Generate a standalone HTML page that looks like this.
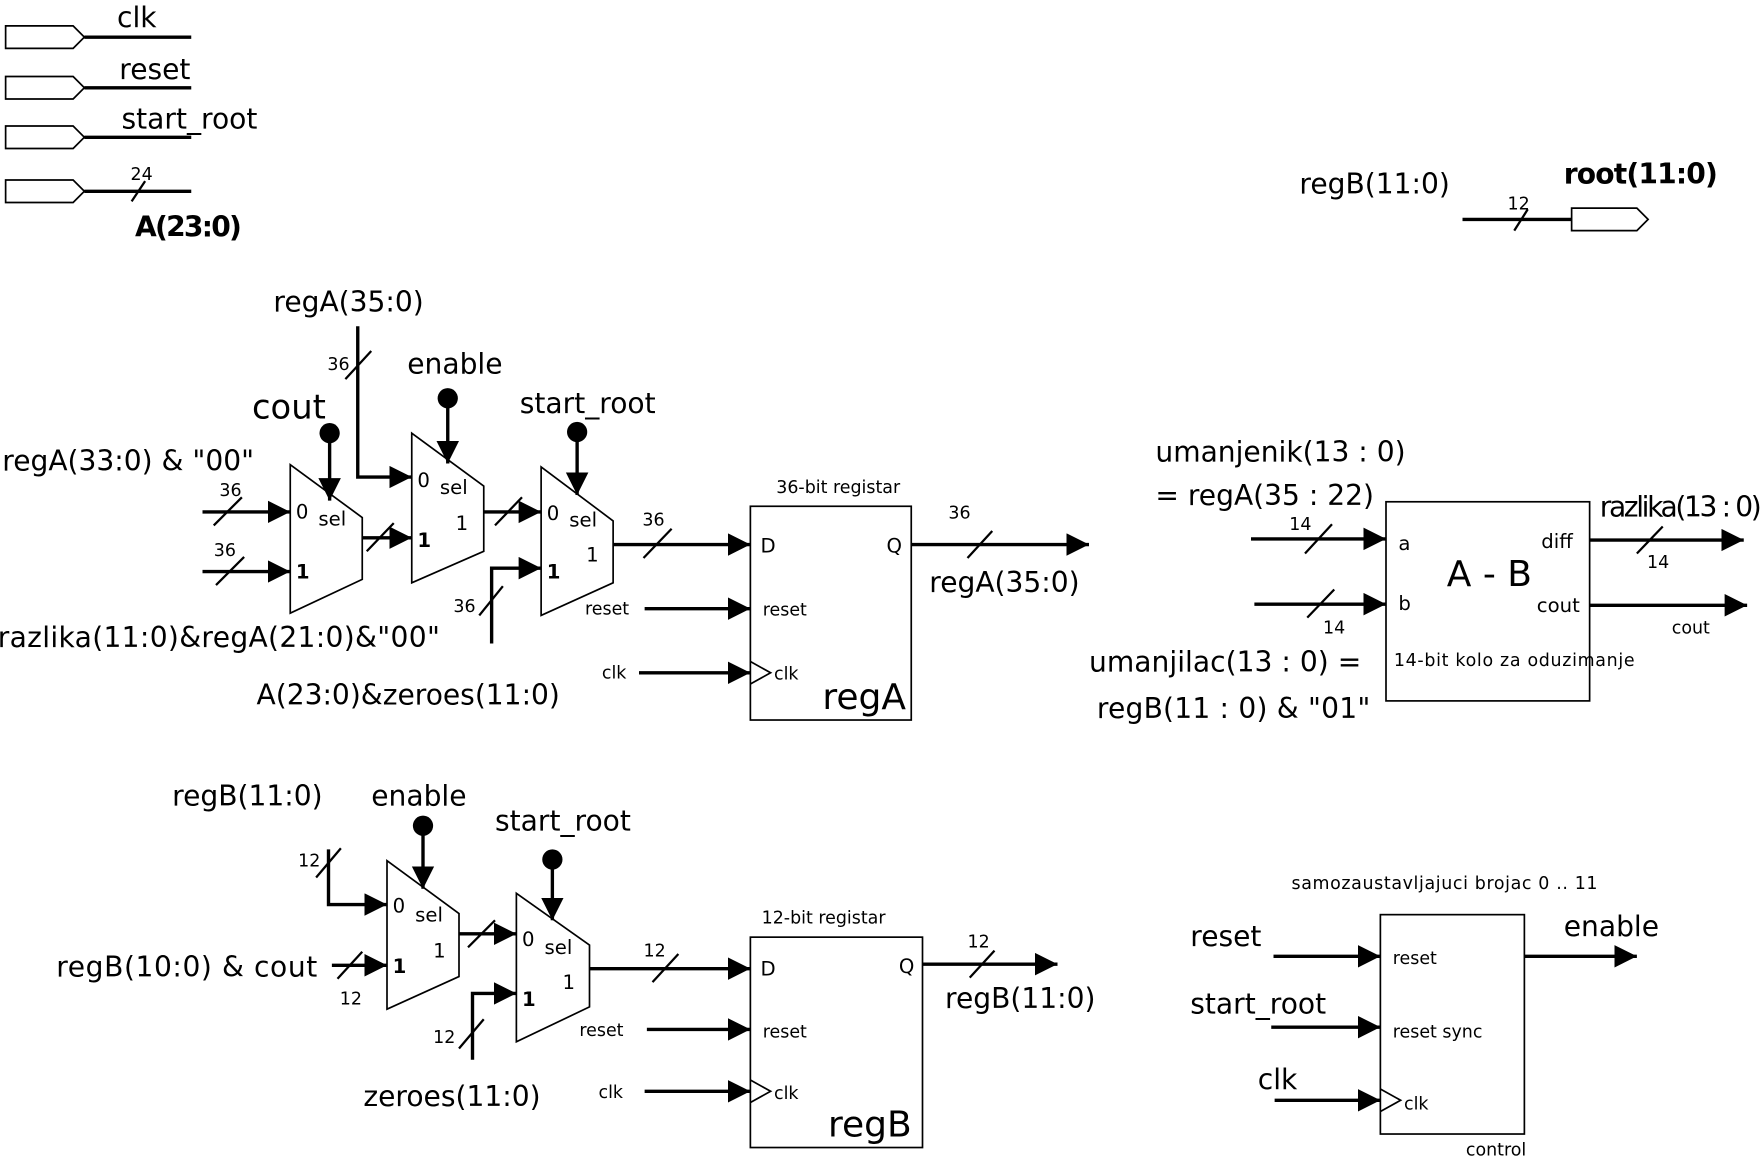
<!DOCTYPE html>
<html><head><meta charset="utf-8"><style>
html,body{margin:0;padding:0;background:#fff;}
svg{display:block;}
text{font-family:"DejaVu Sans","Liberation Sans",sans-serif;fill:#000;}
.L{font-size:25px;}
.S{font-size:15.5px;}
.M{font-size:17.5px;}
</style></head><body>
<svg width="1764" height="1157" viewBox="0 0 1568 1028.4" xmlns="http://www.w3.org/2000/svg">
<defs>
<marker id="a" markerUnits="userSpaceOnUse" markerWidth="22" markerHeight="22" refX="20" refY="10" orient="auto">
<path d="M0,0 L20,10 L0,20 Z" fill="#000"/></marker>
</defs>
<g stroke="#000" stroke-width="3" fill="none">
<path stroke-width="1.5" d="M5,23 H65 L75,33 L65,43 H5 Z"/><line x1="75" y1="33" x2="170" y2="33"/>
<path stroke-width="1.5" d="M5,68 H65 L75,78 L65,88 H5 Z"/><line x1="75" y1="78" x2="170" y2="78"/>
<path stroke-width="1.5" d="M5,112 H65 L75,122 L65,132 H5 Z"/><line x1="75" y1="122" x2="170" y2="122"/>
<path stroke-width="1.5" d="M5,160 H65 L75,170 L65,180 H5 Z"/><line x1="75" y1="170" x2="170" y2="170"/>
<line stroke-width="2" x1="117" y1="179" x2="129" y2="161"/>
<line x1="1300" y1="195" x2="1397" y2="195"/><line stroke-width="2" x1="1346" y1="205" x2="1358" y2="186"/>
<path stroke-width="1.5" d="M1397,185 H1455 L1465,195 L1455,205 H1397 Z"/>

<path stroke-width="1.5" d="M258,413 L322,460 L322,515 L258,545 Z"/>
<path stroke-width="1.5" d="M366,385 L430,432 L430,490 L366,518 Z"/>
<path stroke-width="1.5" d="M481,415 L545,463 L545,518 L481,547 Z"/>
<line x1="180" y1="455" x2="258" y2="455" marker-end="url(#a)"/><line stroke-width="2" x1="190" y1="467" x2="215" y2="442"/>
<line x1="180" y1="508" x2="258" y2="508" marker-end="url(#a)"/><line stroke-width="2" x1="192" y1="520" x2="217" y2="495"/>
<line x1="293" y1="385" x2="293" y2="445" marker-end="url(#a)"/><circle cx="293" cy="385" r="9" fill="#000" stroke="none"/>
<polyline points="318,290 318,424 366,424" marker-end="url(#a)"/><line stroke-width="2" x1="307" y1="337" x2="330" y2="312"/>
<line x1="398" y1="354" x2="398" y2="412" marker-end="url(#a)"/><circle cx="398" cy="354" r="9" fill="#000" stroke="none"/>
<line x1="322" y1="478" x2="366" y2="478" marker-end="url(#a)"/><line stroke-width="2" x1="326" y1="490" x2="350" y2="465"/>
<line x1="430" y1="455" x2="481" y2="455" marker-end="url(#a)"/><line stroke-width="2" x1="440" y1="467" x2="464" y2="442"/>
<line x1="513" y1="384" x2="513" y2="440" marker-end="url(#a)"/><circle cx="513" cy="384" r="9" fill="#000" stroke="none"/>
<polyline points="437,572 437,505 481,505" marker-end="url(#a)"/><line stroke-width="2" x1="426" y1="547" x2="447" y2="521"/>
<line x1="545" y1="484" x2="667" y2="484" marker-end="url(#a)"/><line stroke-width="2" x1="572" y1="496" x2="597" y2="470"/>
<rect stroke-width="1.5" x="667" y="450" width="143" height="190"/>
<line x1="573" y1="541" x2="667" y2="541" marker-end="url(#a)"/>
<line x1="568" y1="598" x2="667" y2="598" marker-end="url(#a)"/>
<path stroke-width="1.5" d="M667,588 L685,598 L667,608"/>
<line x1="810" y1="484" x2="968" y2="484" marker-end="url(#a)"/><line stroke-width="2" x1="860" y1="496" x2="882" y2="472"/>

<rect stroke-width="1.5" x="1232" y="446" width="181" height="177"/>
<line x1="1112" y1="479" x2="1232" y2="479" marker-end="url(#a)"/><line stroke-width="2" x1="1160" y1="492" x2="1184" y2="466"/>
<line x1="1115" y1="537" x2="1232" y2="537" marker-end="url(#a)"/><line stroke-width="2" x1="1162" y1="549" x2="1186" y2="524"/>
<line x1="1413" y1="480" x2="1550" y2="480" marker-end="url(#a)"/><line stroke-width="2" x1="1455" y1="492" x2="1478" y2="468"/>
<line x1="1413" y1="538" x2="1553" y2="538" marker-end="url(#a)"/>

<path stroke-width="1.5" d="M344,765 L408,812 L408,868 L344,897 Z"/>
<path stroke-width="1.5" d="M459,794 L524,840 L524,895 L459,926 Z"/>
<polyline points="292,755 292,804 344,804" marker-end="url(#a)"/><line stroke-width="2" x1="281" y1="780" x2="303" y2="754"/>
<line x1="295" y1="858" x2="344" y2="858" marker-end="url(#a)"/><line stroke-width="2" x1="300" y1="870" x2="322" y2="846"/>
<line x1="376" y1="734" x2="376" y2="790" marker-end="url(#a)"/><circle cx="376" cy="734" r="9" fill="#000" stroke="none"/>
<line x1="408" y1="830" x2="459" y2="830" marker-end="url(#a)"/><line stroke-width="2" x1="416" y1="842" x2="440" y2="818"/>
<line x1="491" y1="764" x2="491" y2="818" marker-end="url(#a)"/><circle cx="491" cy="764" r="9" fill="#000" stroke="none"/>
<polyline points="420,942 420,883 459,883" marker-end="url(#a)"/><line stroke-width="2" x1="408" y1="932" x2="430" y2="906"/>
<line x1="524" y1="861" x2="667" y2="861" marker-end="url(#a)"/><line stroke-width="2" x1="580" y1="873" x2="603" y2="848"/>
<rect stroke-width="1.5" x="667" y="833" width="153" height="187"/>
<line x1="575" y1="915" x2="667" y2="915" marker-end="url(#a)"/>
<line x1="573" y1="970" x2="667" y2="970" marker-end="url(#a)"/>
<path stroke-width="1.5" d="M667,960 L685,970 L667,980"/>
<line x1="820" y1="857" x2="940" y2="857" marker-end="url(#a)"/><line stroke-width="2" x1="862" y1="869" x2="884" y2="845"/>

<rect stroke-width="1.5" x="1227" y="813" width="128" height="195"/>
<line x1="1132" y1="850" x2="1227" y2="850" marker-end="url(#a)"/>
<line x1="1130" y1="913" x2="1227" y2="913" marker-end="url(#a)"/>
<line x1="1133" y1="978" x2="1227" y2="978" marker-end="url(#a)"/>
<path stroke-width="1.5" d="M1227,968 L1245,978 L1227,988"/>
<line x1="1355" y1="850" x2="1455" y2="850" marker-end="url(#a)"/>
</g>

<g>
<text class="L" x="104" y="24">clk</text>
<text class="L" x="106" y="70">reset</text>
<text class="L" x="108" y="114">start_root</text>
<text class="S" x="116" y="160">24</text>
<text class="L" x="120" y="210" font-weight="bold" textLength="95">A(23:0)</text>
<text class="L" x="1155" y="172">regB(11:0)</text>
<text class="S" x="1340" y="186">12</text>
<text class="L" x="1390" y="163" font-weight="bold" textLength="137">root(11:0)</text>

<text class="L" x="243" y="277">regA(35:0)</text>
<text class="S" x="291" y="329">36</text>
<text class="L" x="362" y="332">enable</text>
<text x="224" y="372" style="font-size:30px">cout</text>
<text class="L" x="462" y="367">start_root</text>
<text class="L" x="2" y="418">regA(33:0) &amp; "00"</text>
<text class="S" x="195" y="441">36</text>
<text class="S" x="190" y="494">36</text>
<text class="L" x="-2" y="575" textLength="393">razlika(11:0)&amp;regA(21:0)&amp;"00"</text>
<text class="L" x="228" y="626">A(23:0)&amp;zeroes(11:0)</text>
<text class="S" x="403" y="544">36</text>
<text class="S" x="571" y="467">36</text>
<text class="M" x="263" y="461">0</text><text class="M" x="283" y="467">sel</text><text class="M" x="263" y="514" font-weight="bold">1</text>
<text class="M" x="371" y="433">0</text><text class="M" x="391" y="439">sel</text><text class="M" x="405" y="471">1</text><text class="M" x="371" y="486" font-weight="bold">1</text>
<text class="M" x="486" y="462">0</text><text class="M" x="506" y="468">sel</text><text class="M" x="521" y="499">1</text><text class="M" x="486" y="514" font-weight="bold">1</text>
<text class="S" x="690" y="438">36-bit registar</text>
<text class="M" x="676" y="491">D</text><text class="M" x="788" y="491">Q</text>
<text class="S" x="678" y="547">reset</text><text class="S" x="688" y="604">clk</text>
<text x="731" y="630" style="font-size:32px">regA</text>
<text class="S" x="520" y="546">reset</text><text class="S" x="535" y="603">clk</text>
<text class="S" x="843" y="461">36</text>
<text class="L" x="826" y="526">regA(35:0)</text>

<text class="L" x="1027" y="410">umanjenik(13 : 0)</text>
<text class="L" x="1027" y="449">= regA(35 : 22)</text>
<text class="S" x="1146" y="471">14</text>
<text class="S" x="1176" y="563">14</text>
<text class="M" x="1243" y="489">a</text><text class="M" x="1243" y="542">b</text>
<text class="M" x="1370" y="487">diff</text><text class="M" x="1366" y="544">cout</text>
<text x="1286" y="521" style="font-size:32px">A - B</text>
<text class="L" x="1422" y="459" textLength="144">razlika(13 : 0)</text>
<text class="S" x="1464" y="505">14</text>
<text class="S" x="1486" y="563">cout</text>
<text class="S" x="1239" y="592" textLength="214">14-bit kolo za oduzimanje</text>
<text class="L" x="968" y="597" textLength="242">umanjilac(13 : 0) =</text>
<text class="L" x="975" y="638" textLength="243">regB(11 : 0) &amp; "01"</text>

<text class="L" x="153" y="716">regB(11:0)</text>
<text class="S" x="265" y="770">12</text>
<text class="L" x="330" y="716">enable</text>
<text class="L" x="440" y="738">start_root</text>
<text class="L" x="50" y="868" textLength="232">regB(10:0) &amp; cout</text>
<text class="S" x="302" y="893">12</text>
<text class="S" x="385" y="927">12</text>
<text class="L" x="323" y="983">zeroes(11:0)</text>
<text class="M" x="349" y="811">0</text><text class="M" x="369" y="819">sel</text><text class="M" x="385" y="851">1</text><text class="M" x="349" y="865" font-weight="bold">1</text>
<text class="M" x="464" y="841">0</text><text class="M" x="484" y="848">sel</text><text class="M" x="500" y="879">1</text><text class="M" x="464" y="894" font-weight="bold">1</text>
<text class="S" x="572" y="850">12</text>
<text class="S" x="677" y="821">12-bit registar</text>
<text class="M" x="676" y="867">D</text><text class="M" x="799" y="865">Q</text>
<text class="S" x="678" y="922">reset</text><text class="S" x="688" y="977">clk</text>
<text x="736" y="1010" style="font-size:32px">regB</text>
<text class="S" x="515" y="921">reset</text><text class="S" x="532" y="976">clk</text>
<text class="S" x="860" y="842">12</text>
<text class="L" x="840" y="896">regB(11:0)</text>

<text class="S" x="1148" y="790" textLength="272">samozaustavljajuci brojac  0 .. 11</text>
<text class="L" x="1058" y="841">reset</text>
<text class="L" x="1058" y="901">start_root</text>
<text class="L" x="1118" y="968">clk</text>
<text class="S" x="1238" y="857">reset</text>
<text class="S" x="1238" y="922">reset sync</text>
<text class="S" x="1248" y="986">clk</text>
<text class="L" x="1390" y="832">enable</text>
<text class="S" x="1303" y="1027">control</text>
</g>
</svg>
</body></html>
